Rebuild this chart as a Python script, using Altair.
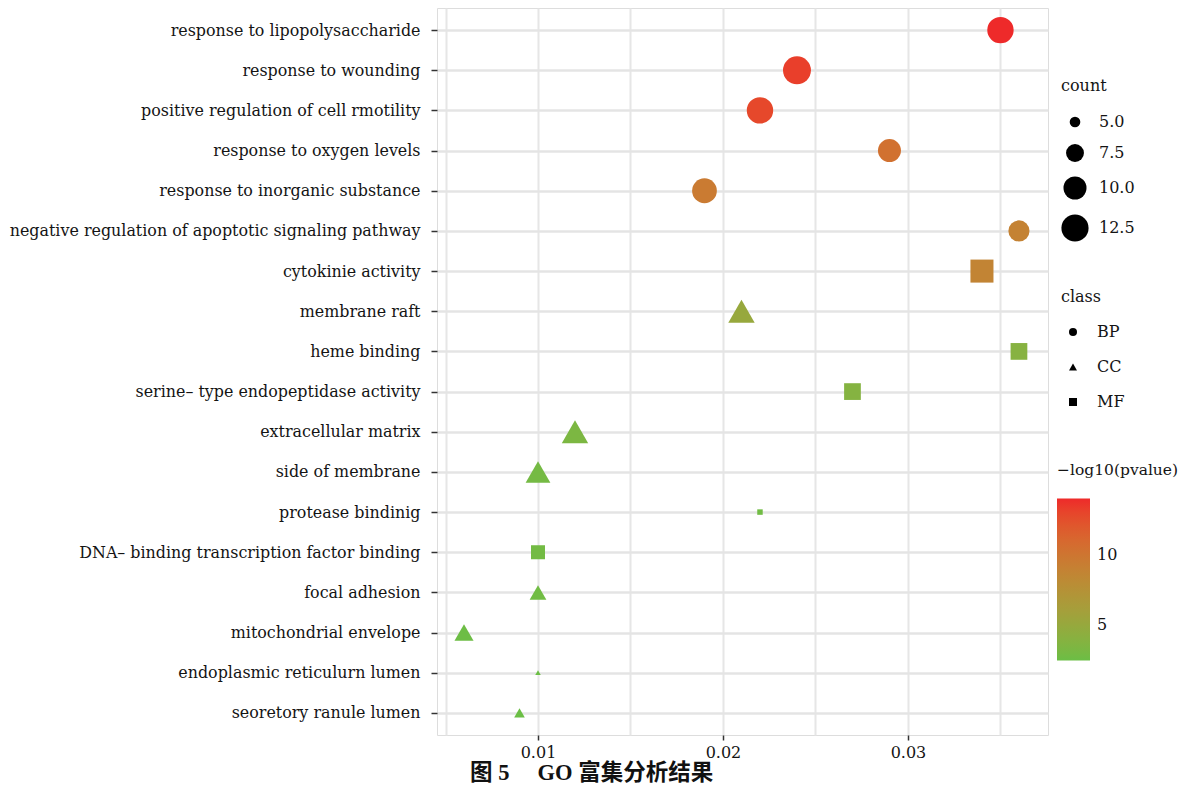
import altair as alt
import pandas as pd

terms = [
    "response to lipopolysaccharide",
    "response to wounding",
    "positive regulation of cell rmotility",
    "response to oxygen levels",
    "response to inorganic substance",
    "negative regulation of apoptotic signaling pathway",
    "cytokinie activity",
    "membrane raft",
    "heme binding",
    "serine– type endopeptidase activity",
    "extracellular matrix",
    "side of membrane",
    "protease bindinig",
    "DNA– binding transcription factor binding",
    "focal adhesion",
    "mitochondrial envelope",
    "endoplasmic reticulurn lumen",
    "seoretory ranule lumen",
]
gene_ratio = [0.035, 0.024, 0.022, 0.029, 0.019, 0.036, 0.034, 0.021, 0.036,
              0.027, 0.012, 0.010, 0.022, 0.010, 0.010, 0.006, 0.010, 0.009]
counts = [12, 13, 12, 10, 11, 9, 10, 12, 7, 7, 12, 11, 4, 6, 7, 8, 4, 5]
classes = ["BP", "BP", "BP", "BP", "BP", "BP", "MF", "CC", "MF", "MF",
           "CC", "CC", "MF", "MF", "CC", "CC", "CC", "CC"]
neg_log10_p = [14.0, 13.3, 12.9, 10.3, 9.5, 8.9, 8.7, 5.0, 3.9, 3.8,
               3.3, 2.9, 2.7, 2.8, 2.7, 2.5, 2.45, 2.43]

x_grid_values = [0.005, 0.01, 0.015, 0.02, 0.025, 0.03, 0.035]
count_breaks = [5, 7.5, 10, 12.5]
color_breaks = [5, 10]

df = pd.DataFrame({
    "term": terms,
    "ratio": gene_ratio,
    "count": counts,
    "class": classes,
    "logp": neg_log10_p,
})

FONT = "DejaVu Serif"
TXT = "#141414"
major = "abs(datum.value*100 - round(datum.value*100)) < 0.001"

x_axis = alt.Axis(
    values=x_grid_values,
    labelExpr=f"({major}) ? format(datum.value, '.2f') : ''",
    tickOpacity={"condition": {"test": major, "value": 1}, "value": 0},
    title=None, grid=True, gridColor="#E6E6E6", gridWidth=2,
    domain=False, tickColor="#333333", tickSize=5, tickWidth=1.5,
    labelFont=FONT, labelFontSize=16, labelColor=TXT, labelPadding=4,
)
y_axis = alt.Axis(
    title=None, grid=True, gridColor="#E4E4E4", gridWidth=2.5,
    domain=False, tickColor="#333333", tickSize=6, tickWidth=1.5,
    labelFont=FONT, labelFontSize=15.9, labelColor=TXT, labelPadding=11,
    labelLimit=0,
)

points = alt.Chart(df).mark_point(filled=True, opacity=1, strokeWidth=0).encode(
    x=alt.X("ratio:Q", axis=x_axis,
            scale=alt.Scale(domain=[0.00454, 0.03757], nice=False, zero=False)),
    y=alt.Y("term:N", sort=terms, axis=y_axis,
            scale=alt.Scale(type="point", padding=0.55)),
    size=alt.Size("count:Q",
                  scale=alt.Scale(domain=[4, 13], range=[30, 780], zero=False),
                  legend=alt.Legend(
                      title="count", values=count_breaks, format=".1f",
                      orient="none", legendX=624, legendY=70,
                      symbolType="circle", symbolFillColor="black",
                      symbolStrokeColor="black", symbolStrokeWidth=0,
                      titleFont=FONT, titleFontSize=16, titleFontWeight="normal",
                      titleColor=TXT, titlePadding=20,
                      labelFont=FONT, labelFontSize=16, labelColor=TXT,
                      labelOffset=10, rowPadding=14)),
    shape=alt.Shape("class:N",
                    scale=alt.Scale(domain=["BP", "CC", "MF"],
                                    range=["circle", "triangle-up", "square"]),
                    legend=alt.Legend(
                        title="class", orient="none", legendX=624, legendY=281,
                        symbolSize=64, symbolFillColor="black",
                        symbolStrokeColor="black", symbolStrokeWidth=0,
                        symbolOffset=4,
                        titleFont=FONT, titleFontSize=16, titleFontWeight="normal",
                        titleColor=TXT, titlePadding=19,
                        labelFont=FONT, labelFontSize=16, labelColor=TXT,
                        labelOffset=16, rowPadding=19)),
    color=alt.Color("logp:Q",
                    scale=alt.Scale(domain=[2.43, 14], range=["#6BBE45", "#EE2A2A"],
                                    interpolate="lab", nice=False, zero=False),
                    legend=alt.Legend(
                        title="−log10(pvalue)", orient="none", legendX=620,
                        legendY=455, values=color_breaks, direction="vertical",
                        gradientLength=162, gradientThickness=33,
                        gradientStrokeWidth=0,
                        titleFont=FONT, titleFontSize=15.5, titleFontWeight="normal",
                        titleColor=TXT, titlePadding=20,
                        labelFont=FONT, labelFontSize=16, labelColor=TXT,
                        labelOffset=7)),
).properties(
    width=611, height=727,
    title=alt.TitleParams(
        "图 5\u2003 GO 富集分析结果", orient="bottom", anchor="start",
        frame="group", dx=33, offset=2,
        font="Liberation Serif, Noto Sans CJK SC", fontSize=22.5,
        fontWeight="bold", color="#111111"),
)

chart = points.properties(
    autosize=alt.AutoSizeParams(type="none"),
    padding={"left": 429, "top": 0, "right": 137, "bottom": 52},
).configure_view(stroke="#333333", strokeWidth=1.2).configure(background="white")

chart.save("out.html", embed_options={"renderer": "svg", "actions": False})
